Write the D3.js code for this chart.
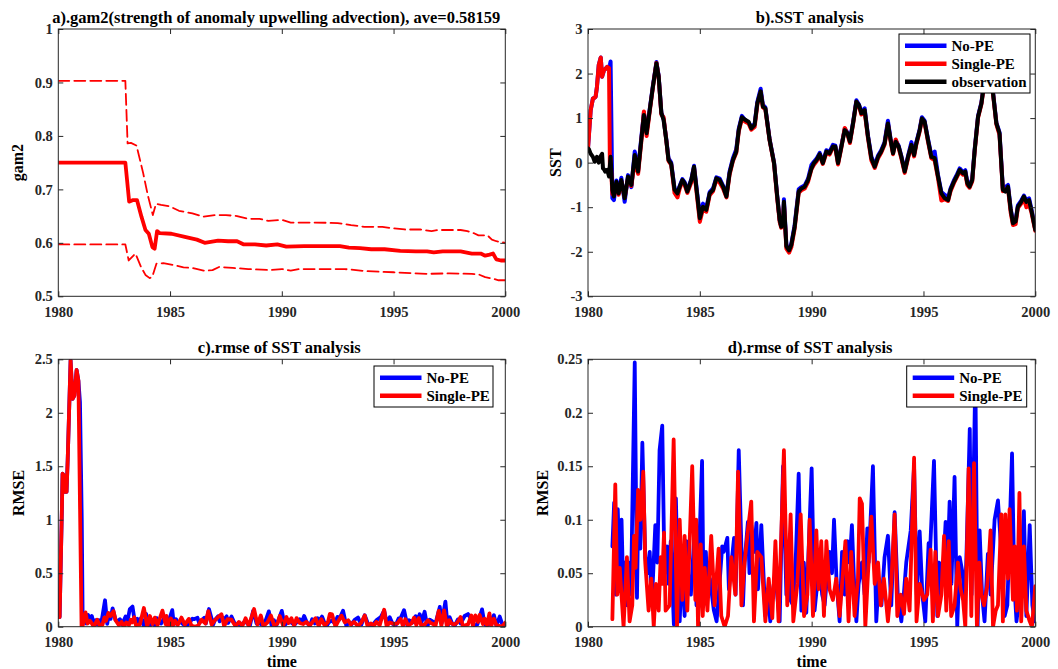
<!DOCTYPE html>
<html>
<head>
<meta charset="utf-8">
<script src="https://cdn.jsdelivr.net/npm/d3@7"></script>
<style>
  html, body { margin: 0; padding: 0; background: #fff; }
  svg { display: block; font-family: "Liberation Serif", "Times New Roman", serif; font-weight: bold; }
</style>
</head>
<body>
<svg id="fig" width="1058" height="669"></svg>
<script>
// ---------- tick values ----------
const yearTicks = [1980, 1985, 1990, 1995, 2000];
const gamTicks = [0.5, 0.6, 0.7, 0.8, 0.9, 1];
const sstTicks = [-3, -2, -1, 0, 1, 2, 3];
const rmseTicksFull = [0, 0.5, 1, 1.5, 2, 2.5];
const rmseTicksZoom = [0, 0.05, 0.1, 0.15, 0.2, 0.25];

// ---------- a) estimated gam2 with its spread ----------
const gamTime = [1980, 1983.0, 1983.07, 1983.17, 1983.35, 1983.52, 1983.72, 1983.9, 1984.05, 1984.21,
  1984.31, 1984.42, 1984.54, 1985.06, 1985.66, 1986.2, 1986.55, 1987.15, 1987.6, 1988.0,
  1988.3, 1988.8, 1989.3, 1989.8, 1990.2, 1991.0, 1992.0, 1992.6, 1993.0, 1993.5,
  1994.0, 1994.6, 1995.3, 1996.0, 1996.5, 1996.8, 1997.2, 1998.0, 1998.5, 1998.9,
  1999.1, 1999.3, 1999.45, 1999.6, 1999.8, 2000];
const gamMean = [0.75, 0.75, 0.72, 0.677, 0.68, 0.68, 0.649, 0.624, 0.617, 0.592,
  0.589, 0.622, 0.618, 0.617, 0.611, 0.606, 0.6, 0.604, 0.603, 0.603,
  0.597, 0.597, 0.595, 0.597, 0.593, 0.594, 0.594, 0.594, 0.591, 0.59,
  0.588, 0.588, 0.585, 0.584, 0.584, 0.582, 0.584, 0.584, 0.58, 0.58,
  0.576, 0.578, 0.58, 0.569, 0.567, 0.567];

const gamUpperTime = [1980, 1983.0, 1983.1, 1983.25, 1983.5, 1983.8, 1984.0, 1984.23, 1984.37, 1984.6,
  1985.0, 1985.4, 1986.0, 1986.5, 1987.0, 1987.5, 1988.0, 1988.5, 1989.0, 1989.4,
  1990.0, 1990.4, 1991.5, 1992.5, 1993.1, 1993.7, 1994.5, 1995.0, 1995.5, 1996.2,
  1996.7, 1997.0, 1998.0, 1998.3, 1998.6, 1998.8, 1999.2, 1999.4, 1999.6, 2000];
const gamUpper = [0.903, 0.903, 0.786, 0.787, 0.782, 0.73, 0.69, 0.652, 0.673, 0.671,
  0.668, 0.66, 0.655, 0.649, 0.652, 0.652, 0.65, 0.645, 0.645, 0.641,
  0.643, 0.638, 0.638, 0.637, 0.633, 0.63, 0.63, 0.627, 0.625, 0.625,
  0.622, 0.624, 0.624, 0.622, 0.618, 0.614, 0.614, 0.606, 0.603, 0.6];

const gamLowerTime = [1980, 1983.0, 1983.15, 1983.45, 1983.7, 1983.9, 1984.09, 1984.2, 1984.39, 1984.7,
  1985.2, 1985.6, 1986.0, 1986.5, 1986.9, 1987.2, 1987.8, 1988.5, 1989.5, 1990.0,
  1990.4, 1990.8, 1992.0, 1992.8, 1993.8, 1995.0, 1996.5, 1997.5, 1998.5, 1998.8,
  1999.1, 1999.45, 1999.7, 2000];
const gamLower = [0.597, 0.597, 0.567, 0.58, 0.555, 0.54, 0.534, 0.536, 0.561, 0.562,
  0.558, 0.554, 0.553, 0.548, 0.549, 0.555, 0.553, 0.551, 0.549, 0.551,
  0.548, 0.551, 0.551, 0.551, 0.547, 0.545, 0.542, 0.543, 0.542, 0.541,
  0.536, 0.533, 0.53, 0.53];

// ---------- b) SST analysis ----------
const sstTime = [
  1980.00, 1980.04, 1980.12, 1980.22, 1980.30, 1980.34, 1980.40, 1980.48, 1980.57, 1980.63,
  1980.67, 1980.72, 1980.77, 1980.86, 1980.94, 1980.98, 1981.01, 1981.09, 1981.16, 1981.27,
  1981.37, 1981.49, 1981.64, 1981.79, 1981.94, 1982.09, 1982.24, 1982.38, 1982.50, 1982.62,
  1982.76, 1982.90, 1983.06, 1983.16, 1983.28, 1983.38, 1983.50, 1983.60, 1983.72, 1983.87,
  1984.00, 1984.10, 1984.22, 1984.32, 1984.44, 1984.62, 1984.74, 1984.84, 1985.00, 1985.14,
  1985.29, 1985.44, 1985.59, 1985.74, 1985.89, 1986.04, 1986.19, 1986.33, 1986.48, 1986.63,
  1986.74, 1986.88, 1987.03, 1987.18, 1987.30, 1987.45, 1987.57, 1987.72, 1987.82, 1987.93,
  1988.12, 1988.32, 1988.46, 1988.57, 1988.64, 1988.72, 1988.76, 1988.87, 1988.99, 1989.09,
  1989.24, 1989.42, 1989.54, 1989.69, 1989.84, 1989.99, 1990.10, 1990.22, 1990.36, 1990.50,
  1990.66, 1990.80, 1990.95, 1991.06, 1991.18, 1991.33, 1991.48, 1991.60, 1991.71, 1991.85,
  1992.00, 1992.12, 1992.22, 1992.37, 1992.52, 1992.67, 1992.82, 1992.97, 1993.11, 1993.26,
  1993.41, 1993.53, 1993.64, 1993.76, 1993.89, 1994.01, 1994.16, 1994.31, 1994.46, 1994.58,
  1994.68, 1994.83, 1994.93, 1995.05, 1995.20, 1995.35, 1995.50, 1995.65, 1995.80, 1995.95,
  1996.10, 1996.21, 1996.36, 1996.51, 1996.62, 1996.77, 1996.87, 1996.96, 1997.06, 1997.18,
  1997.29, 1997.44, 1997.59, 1997.80, 1997.92, 1998.02, 1998.11, 1998.26, 1998.40, 1998.55,
  1998.66, 1998.78, 1998.90, 1999.00, 1999.12, 1999.22, 1999.37, 1999.49, 1999.60, 1999.72,
  1999.82, 2000.00];
const sstObs = [
  0.32, 0.30, 0.20, 0.13, 0.02, 0.05, 0.13, 0.00, 0.15, 0.20,
  -0.13, -0.15, -0.20, -0.16, -0.31, -0.05, 0.13, -0.61, -0.76, -0.43,
  -0.69, -0.39, -0.80, -0.31, -0.50, 0.17, -0.20, 0.50, 1.07, 0.66,
  1.18, 1.70, 2.23, 1.93, 1.11, 0.96, 0.51, 0.06, -0.03, -0.61,
  -0.69, -0.54, -0.39, -0.46, -0.65, -0.39, -0.09, -0.54, -1.25, -0.99,
  -1.06, -0.69, -0.61, -0.35, -0.39, -0.54, -0.76, -0.24, 0.06, 0.25,
  0.73, 1.02, 0.96, 0.92, 0.77, 0.85, 1.33, 1.60, 1.26, 1.22,
  0.51, -0.01, -0.76, -1.29, -1.44, -1.36, -0.88, -1.88, -1.97, -1.85,
  -1.44, -0.65, -0.58, -0.54, -0.39, -0.13, -0.01, 0.06, 0.19, -0.01,
  0.25, 0.21, 0.36, 0.36, -0.01, 0.36, 0.73, 0.66, 0.47, 0.88,
  1.37, 1.29, 1.11, 1.18, 0.58, 0.10, -0.09, 0.13, 0.25, 0.43,
  0.88, 0.51, 0.21, 0.47, 0.36, 0.13, -0.20, 0.13, 0.40, 0.17,
  0.43, 0.73, 0.99, 0.92, 0.51, 0.13, 0.10, -0.31, -0.69, -0.80,
  -0.84, -0.61, -0.43, -0.28, -0.16, -0.24, -0.20, -0.46, -0.54, -0.39,
  0.28, 1.03, 1.33, 2.10, 2.50, 2.30, 1.56, 0.88, 0.66, -0.61,
  -0.65, -0.54, -1.06, -1.36, -1.32, -0.99, -0.88, -0.76, -0.88, -0.84,
  -1.06, -1.51];
const sstNoPE = [
  0.32, 0.62, 1.18, 1.44, 1.46, 1.48, 1.70, 2.19, 2.36, 1.93,
  2.00, 2.08, 2.10, 2.15, 2.12, 2.20, 2.27, -0.80, -0.84, -0.40,
  -0.66, -0.34, -0.88, -0.28, -0.55, 0.25, -0.17, 0.55, 1.12, 0.70,
  1.20, 1.72, 2.26, 1.95, 1.12, 0.98, 0.53, 0.10, 0.00, -0.58,
  -0.66, -0.52, -0.37, -0.44, -0.62, -0.37, -0.07, -0.50, -1.20, -0.92,
  -1.02, -0.66, -0.58, -0.33, -0.36, -0.52, -0.72, -0.20, 0.10, 0.30,
  0.76, 1.05, 0.95, 0.90, 0.80, 0.87, 1.36, 1.66, 1.30, 1.24,
  0.53, 0.00, -0.74, -1.28, -1.42, -1.34, -0.82, -1.85, -1.95, -1.82,
  -1.40, -0.60, -0.55, -0.51, -0.36, -0.05, 0.02, 0.09, 0.22, 0.02,
  0.28, 0.24, 0.40, 0.38, 0.01, 0.38, 0.76, 0.68, 0.50, 0.90,
  1.40, 1.30, 1.14, 1.22, 0.60, 0.14, -0.06, 0.16, 0.28, 0.46,
  0.94, 0.53, 0.24, 0.50, 0.38, 0.15, -0.18, 0.15, 0.46, 0.19,
  0.46, 0.75, 1.02, 0.94, 0.54, 0.17, 0.25, -0.28, -0.66, -0.72,
  -0.80, -0.58, -0.40, -0.25, -0.13, -0.21, -0.17, -0.43, -0.50, -0.36,
  0.30, 1.05, 1.35, 2.12, 2.52, 2.32, 1.58, 0.90, 0.68, -0.58,
  -0.55, -0.50, -1.03, -1.33, -1.30, -0.96, -0.85, -0.74, -0.85, -0.80,
  -1.03, -1.49];
const sstSinglePE = [
  0.32, 0.60, 1.18, 1.44, 1.46, 1.48, 1.70, 2.19, 2.36, 1.93,
  2.00, 2.08, 2.10, 2.15, 2.12, -0.10, 0.10, -0.70, -0.74, -0.48,
  -0.72, -0.42, -0.78, -0.35, -0.52, 0.05, -0.25, 0.45, 1.15, 0.60,
  1.15, 1.68, 2.24, 1.92, 1.08, 1.02, 0.50, 0.04, -0.05, -0.68,
  -0.78, -0.58, -0.42, -0.50, -0.68, -0.44, -0.12, -0.60, -1.33, -1.04,
  -1.10, -0.73, -0.64, -0.38, -0.45, -0.58, -0.78, -0.27, 0.04, 0.22,
  0.70, 0.98, 0.92, 0.88, 0.74, 0.80, 1.30, 1.58, 1.24, 1.20,
  0.50, -0.03, -0.80, -1.33, -1.46, -1.38, -0.92, -1.93, -2.02, -1.90,
  -1.48, -0.68, -0.62, -0.58, -0.43, -0.15, -0.05, 0.03, 0.17, -0.03,
  0.22, 0.18, 0.34, 0.33, -0.04, 0.34, 0.78, 0.64, 0.44, 0.86,
  1.36, 1.26, 1.08, 1.14, 0.55, 0.05, -0.12, 0.10, 0.22, 0.40,
  0.86, 0.48, 0.19, 0.52, 0.33, 0.10, -0.23, 0.10, 0.38, 0.14,
  0.41, 0.70, 0.97, 0.89, 0.48, 0.10, 0.05, -0.35, -0.85, -0.82,
  -0.86, -0.64, -0.46, -0.31, -0.20, -0.27, -0.24, -0.50, -0.56, -0.42,
  0.26, 1.01, 1.31, 2.08, 2.48, 2.28, 1.54, 0.86, 0.62, -0.64,
  -0.62, -0.58, -1.12, -1.40, -1.38, -1.02, -0.92, -0.80, -1.00, -0.95,
  -1.10, -1.53];

// ---------- c/d) RMSE of SST analysis, [year, rmse] ----------
// spin-up period (first year), shown only in the full-range panel
const rmseSpinupNoPE = [[1980.00, 0.09], [1980.06, 0.09], [1980.16, 1.09], [1980.19, 1.43], [1980.27, 1.41],
  [1980.30, 1.26], [1980.37, 1.26], [1980.42, 1.56], [1980.55, 2.49], [1980.64, 2.13],
  [1980.72, 2.16], [1980.82, 2.40], [1980.90, 2.30], [1980.97, 2.10], [1981.05, 1.00]];
const rmseSpinupSinglePE = [[1980.00, 0.09], [1980.06, 0.09], [1980.16, 1.09], [1980.19, 1.43], [1980.27, 1.41],
  [1980.30, 1.26], [1980.37, 1.26], [1980.42, 1.56], [1980.55, 2.49], [1980.64, 2.13],
  [1980.72, 2.16], [1980.82, 2.40], [1980.90, 2.30], [1981.04, 0.01]];

const rmseNoPE = [
  [1981.09, 0.075], [1981.17, 0.116], [1981.25, 0.03], [1981.33, 0.11], [1981.42, 0.05], [1981.50, 0.10], [1981.58, 0.03], [1981.67, 0.06], [1981.75, 0.02], [1981.83, 0.06],
  [1981.92, 0.03], [1982.09, 0.247], [1982.19, 0.027], [1982.26, 0.125], [1982.34, 0.073], [1982.43, 0.172], [1982.56, 0.065], [1982.66, 0.05], [1982.76, 0.07], [1982.85, 0.02],
  [1983.01, 0.095], [1983.10, 0.06], [1983.20, 0.165], [1983.32, 0.188], [1983.42, 0.05], [1983.53, 0.075], [1983.60, 0.04], [1983.70, 0.08], [1983.84, 0.002], [1983.93, 0.12],
  [1984.02, 0.04], [1984.10, 0.005], [1984.20, 0.06], [1984.32, 0.01], [1984.40, 0.08], [1984.50, 0.04], [1984.60, 0.03], [1984.77, 0.09], [1984.85, 0.02], [1984.95, 0.06],
  [1985.10, 0.155], [1985.17, 0.02], [1985.27, 0.07], [1985.35, 0.03], [1985.45, 0.045], [1985.63, 0.015], [1985.75, 0.005], [1985.88, 0.04], [1986.00, 0.075], [1986.07, 0.07],
  [1986.23, 0.083], [1986.30, 0.035], [1986.42, 0.06], [1986.53, 0.083], [1986.60, 0.03], [1986.74, 0.165], [1986.93, 0.02], [1987.00, 0.06], [1987.15, 0.098], [1987.22, 0.05],
  [1987.30, 0.095], [1987.43, 0.07], [1987.53, 0.097], [1987.60, 0.035], [1987.75, 0.095], [1987.93, 0.01], [1988.05, 0.03], [1988.15, 0.005], [1988.25, 0.03], [1988.37, 0.05],
  [1988.57, 0.005], [1988.72, 0.15], [1988.87, 0.03], [1988.95, 0.06], [1989.05, 0.025], [1989.17, 0.02], [1989.30, 0.07], [1989.42, 0.143], [1989.54, 0.015], [1989.65, 0.06],
  [1989.76, 0.013], [1990.00, 0.148], [1990.13, 0.015], [1990.25, 0.04], [1990.36, 0.06], [1990.47, 0.03], [1990.58, 0.02], [1990.70, 0.05], [1990.80, 0.07], [1990.91, 0.05],
  [1991.00, 0.10], [1991.12, 0.04], [1991.25, 0.005], [1991.36, 0.07], [1991.48, 0.03], [1991.60, 0.08], [1991.70, 0.06], [1991.80, 0.095], [1991.90, 0.04], [1992.00, 0.005],
  [1992.10, 0.04], [1992.25, 0.06], [1992.37, 0.03], [1992.49, 0.092], [1992.55, 0.06], [1992.74, 0.15], [1992.89, 0.005], [1993.00, 0.045], [1993.12, 0.02], [1993.26, 0.065],
  [1993.41, 0.085], [1993.56, 0.02], [1993.71, 0.107], [1993.85, 0.03], [1994.01, 0.005], [1994.12, 0.03], [1994.23, 0.06], [1994.43, 0.09], [1994.58, 0.15], [1994.70, 0.03],
  [1994.83, 0.089], [1994.95, 0.03], [1995.08, 0.005], [1995.23, 0.078], [1995.30, 0.073], [1995.47, 0.155], [1995.62, 0.01], [1995.70, 0.06], [1995.85, 0.04], [1995.99, 0.098],
  [1996.08, 0.06], [1996.17, 0.117], [1996.25, 0.04], [1996.39, 0.14], [1996.51, 0.0], [1996.62, 0.065], [1996.75, 0.05], [1996.85, 0.02], [1996.92, 0.065], [1997.07, 0.185],
  [1997.15, 0.03], [1997.32, 0.235], [1997.42, 0.0], [1997.51, 0.09], [1997.62, 0.03], [1997.73, 0.005], [1997.88, 0.068], [1998.00, 0.03], [1998.18, 0.10], [1998.33, 0.118],
  [1998.45, 0.08], [1998.63, 0.01], [1998.75, 0.02], [1998.96, 0.162], [1999.06, 0.04], [1999.16, 0.005], [1999.30, 0.03], [1999.49, 0.108], [1999.60, 0.01], [1999.75, 0.095],
  [1999.87, 0.02], [1999.97, 0.005]];

const rmseSinglePE = [
  [1981.09, 0.007], [1981.22, 0.133], [1981.31, 0.03], [1981.42, 0.055], [1981.59, 0.0], [1981.74, 0.065], [1981.86, 0.005], [1981.98, 0.02], [1982.06, 0.085], [1982.13, 0.055],
  [1982.24, 0.128], [1982.34, 0.10], [1982.47, 0.145], [1982.56, 0.06], [1982.71, 0.015], [1982.83, 0.045], [1982.94, 0.0], [1983.04, 0.04], [1983.16, 0.015], [1983.25, 0.065],
  [1983.31, 0.04], [1983.40, 0.088], [1983.47, 0.015], [1983.65, 0.02], [1983.83, 0.175], [1983.98, 0.0], [1984.10, 0.10], [1984.22, 0.025], [1984.32, 0.085], [1984.44, 0.015],
  [1984.66, 0.15], [1984.80, 0.025], [1984.84, 0.10], [1984.92, 0.0], [1985.04, 0.077], [1985.13, 0.01], [1985.22, 0.055], [1985.34, 0.015], [1985.51, 0.085], [1985.66, 0.02],
  [1985.84, 0.073], [1985.96, 0.01], [1986.11, 0.0], [1986.26, 0.01], [1986.41, 0.065], [1986.59, 0.03], [1986.71, 0.145], [1986.86, 0.02], [1987.00, 0.06], [1987.15, 0.09],
  [1987.30, 0.117], [1987.42, 0.005], [1987.57, 0.07], [1987.75, 0.065], [1987.93, 0.005], [1988.08, 0.045], [1988.24, 0.008], [1988.38, 0.08], [1988.52, 0.005], [1988.76, 0.165],
  [1988.91, 0.02], [1989.06, 0.105], [1989.18, 0.005], [1989.36, 0.04], [1989.51, 0.105], [1989.66, 0.01], [1989.81, 0.03], [1989.91, 0.10], [1990.06, 0.01], [1990.21, 0.09],
  [1990.31, 0.035], [1990.43, 0.08], [1990.55, 0.01], [1990.66, 0.08], [1990.80, 0.035], [1990.95, 0.025], [1991.10, 0.045], [1991.25, 0.01], [1991.51, 0.08], [1991.65, 0.005],
  [1991.77, 0.07], [1991.92, 0.01], [1992.07, 0.045], [1992.15, 0.12], [1992.25, 0.115], [1992.40, 0.0], [1992.52, 0.05], [1992.67, 0.103], [1992.82, 0.04], [1992.97, 0.06],
  [1993.09, 0.02], [1993.23, 0.045], [1993.41, 0.005], [1993.56, 0.04], [1993.71, 0.105], [1993.83, 0.01], [1993.98, 0.03], [1994.13, 0.012], [1994.23, 0.045], [1994.38, 0.015],
  [1994.58, 0.158], [1994.69, 0.005], [1994.83, 0.04], [1995.02, 0.025], [1995.17, 0.03], [1995.32, 0.072], [1995.42, 0.005], [1995.53, 0.07], [1995.65, 0.01], [1995.80, 0.03],
  [1995.92, 0.085], [1996.02, 0.015], [1996.13, 0.08], [1996.24, 0.01], [1996.39, 0.02], [1996.54, 0.06], [1996.66, 0.035], [1996.77, 0.025], [1996.87, 0.0], [1997.02, 0.148],
  [1997.14, 0.01], [1997.26, 0.153], [1997.39, 0.0], [1997.50, 0.06], [1997.59, 0.03], [1997.71, 0.02], [1997.85, 0.038], [1998.00, 0.09], [1998.11, 0.0], [1998.23, 0.015],
  [1998.33, 0.02], [1998.48, 0.105], [1998.55, 0.005], [1998.66, 0.105], [1998.78, 0.045], [1998.85, 0.11], [1999.00, 0.025], [1999.08, 0.075], [1999.18, 0.015], [1999.29, 0.125],
  [1999.37, 0.005], [1999.49, 0.075], [1999.60, 0.015], [1999.75, 0.005], [1999.85, 0.0], [2000.00, 0.038]];

// ---------- drawing ----------
const INK = "#262626";
const BLUE = "#0000ff", RED = "#ff0000", BLACK = "#000000";
const FONT = '"Liberation Serif", "Times New Roman", serif';
const svg = d3.select("#fig");

const pairs = (ts, vs) => ts.map((t, i) => [t, vs[i]]);

function makePanel(id, box, yDomain, yTicks) {
  const x = d3.scaleLinear().domain([1980, 2000]).range([box.l, box.r]);
  const y = d3.scaleLinear().domain(yDomain).range([box.b, box.t]);
  svg.append("clipPath").attr("id", "clip-" + id)
    .append("rect").attr("x", box.l).attr("y", box.t)
    .attr("width", box.r - box.l).attr("height", box.b - box.t);
  const plot = svg.append("g").attr("clip-path", `url(#clip-${id})`);
  const frame = svg.append("g");

  const axes = [
    frame.append("g").attr("transform", `translate(0,${box.b})`)
      .call(d3.axisBottom(x).tickValues(yearTicks).tickSize(-5).tickPadding(10).tickFormat(d3.format("d"))),
    frame.append("g").attr("transform", `translate(0,${box.t})`)
      .call(d3.axisTop(x).tickValues(yearTicks).tickSize(-5).tickFormat("")),
    frame.append("g").attr("transform", `translate(${box.l},0)`)
      .call(d3.axisLeft(y).tickValues(yTicks).tickSize(-5).tickPadding(5.5).tickFormat(d => String(d))),
    frame.append("g").attr("transform", `translate(${box.r},0)`)
      .call(d3.axisRight(y).tickValues(yTicks).tickSize(-5).tickFormat(""))
  ];
  axes.forEach(a => {
    a.select(".domain").remove();
    a.selectAll(".tick line").attr("stroke", INK).attr("stroke-width", 1);
    a.selectAll(".tick text").attr("fill", INK)
      .style("font-family", FONT).style("font-weight", "bold").style("font-size", "14.5px");
  });
  frame.append("rect").attr("x", box.l).attr("y", box.t)
    .attr("width", box.r - box.l).attr("height", box.b - box.t)
    .attr("fill", "none").attr("stroke", INK).attr("stroke-width", 1);

  const line = d3.line().x(d => x(d[0])).y(d => y(d[1]));
  function series(data, color, width, dash) {
    plot.append("path").datum(data).attr("d", line)
      .attr("fill", "none").attr("stroke", color).attr("stroke-width", width)
      .attr("stroke-linejoin", "round").attr("stroke-linecap", "round")
      .attr("stroke-dasharray", dash || null);
  }
  return { x, y, box, series, frame };
}

function title(p, text, dx) {
  svg.append("text").attr("x", (p.box.l + p.box.r) / 2 + dx).attr("y", p.box.t - 6.5)
    .attr("text-anchor", "middle").attr("fill", "#000")
    .style("font-size", "16.5px").text(text);
}
function yLabel(p, text, xBase) {
  const cy = (p.box.t + p.box.b) / 2;
  svg.append("text").attr("transform", `translate(${xBase},${cy}) rotate(-90)`)
    .attr("text-anchor", "middle").attr("fill", "#000")
    .style("font-size", "16px").text(text);
}
function xLabel(p, text) {
  svg.append("text").attr("x", (p.box.l + p.box.r) / 2).attr("y", p.box.b + 40.5)
    .attr("text-anchor", "middle").attr("fill", "#000")
    .style("font-size", "16px").text(text);
}
function legend(x0, y0, w, items) {
  const h = items.length * 18 + 5;
  const g = svg.append("g").attr("transform", `translate(${x0},${y0})`);
  g.append("rect").attr("width", w).attr("height", h)
    .attr("fill", "#fff").attr("stroke", "#000").attr("stroke-width", 1);
  items.forEach((it, i) => {
    const cy = 11.7 + i * 18;
    g.append("line").attr("x1", 6).attr("x2", 47.5).attr("y1", cy).attr("y2", cy)
      .attr("stroke", it.color).attr("stroke-width", 4.5);
    g.append("text").attr("x", 52.5).attr("y", cy).attr("dy", "0.35em")
      .attr("fill", "#000").style("font-size", "15px").text(it.label);
  });
}

// a) gam2 estimate
const pa = makePanel("a", { l: 58.3, r: 505.3, t: 29, b: 296.3 }, [0.5, 1], gamTicks);
pa.series(pairs(gamUpperTime, gamUpper), RED, 1.8, "11,5");
pa.series(pairs(gamLowerTime, gamLower), RED, 1.8, "11,5");
pa.series(pairs(gamTime, gamMean), RED, 3.8);
title(pa, "a).gam2(strength of anomaly upwelling advection), ave=0.58159", -5.5);
yLabel(pa, "gam2", 23);

// b) SST analysis
const pb = makePanel("b", { l: 588, r: 1035.3, t: 29, b: 296.3 }, [-3, 3], sstTicks);
pb.series(pairs(sstTime, sstNoPE), BLUE, 4);
pb.series(pairs(sstTime, sstSinglePE), RED, 4);
pb.series(pairs(sstTime, sstObs), BLACK, 4);
title(pb, "b).SST analysis", -2);
yLabel(pb, "SST", 561);
legend(899, 34, 131, [
  { label: "No-PE", color: BLUE },
  { label: "Single-PE", color: RED },
  { label: "observation", color: BLACK }]);

// c) RMSE, full range including spin-up
const pc = makePanel("c", { l: 58.3, r: 505.3, t: 359.3, b: 626.7 }, [0, 2.5], rmseTicksFull);
pc.series(rmseSpinupNoPE.concat(rmseNoPE), BLUE, 3.8);
pc.series(rmseSpinupSinglePE.concat(rmseSinglePE), RED, 3.8);
title(pc, "c).rmse of SST analysis", -2.5);
yLabel(pc, "RMSE", 24);
xLabel(pc, "time");
legend(374, 366, 119, [
  { label: "No-PE", color: BLUE },
  { label: "Single-PE", color: RED }]);

// d) RMSE after spin-up
const pd = makePanel("d", { l: 588, r: 1035.3, t: 359.3, b: 626.7 }, [0, 0.25], rmseTicksZoom);
pd.series(rmseNoPE, BLUE, 3.8);
pd.series(rmseSinglePE, RED, 3.8);
title(pd, "d).rmse of SST analysis", -1.5);
yLabel(pd, "RMSE", 548);
xLabel(pd, "time");
legend(906.7, 366, 120, [
  { label: "No-PE", color: BLUE },
  { label: "Single-PE", color: RED }]);
</script>
</body>
</html>
